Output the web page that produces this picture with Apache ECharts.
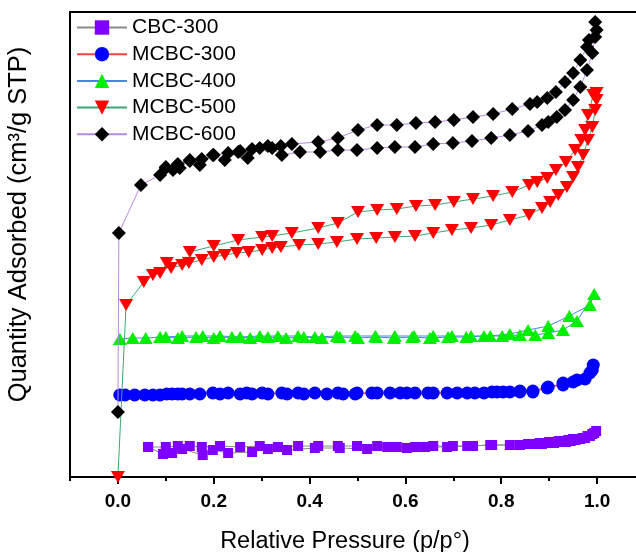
<!DOCTYPE html>
<html>
<head>
<meta charset="utf-8">
<script src="https://cdn.jsdelivr.net/npm/echarts@6/dist/echarts.min.js"></script>
<style>
html,body{margin:0;padding:0;background:#fff;}
#chart{width:636px;height:552px;}
</style>
</head>
<body>
<div id="chart"></div>
<script>
// ---- data (relative pressure, quantity adsorbed in arbitrary units) ----
const seriesNames = ['CBC-300', 'MCBC-300', 'MCBC-400', 'MCBC-500', 'MCBC-600'];
const xMajorTicks = [0, 0.2, 0.4, 0.6, 0.8, 1.0];

const cbc300 = [
  [0.063,30],[0.094,23],[0.113,24],[0.134,28],[0.177,22],[0.198,27],[0.230,24],[0.280,25],[0.313,28],
  [0.353,27],[0.411,29],[0.463,29],[0.520,28],[0.562,30],[0.603,29],[0.641,30],[0.687,30],[0.729,31],
  [0.777,32],[0.818,32],[0.856,33],[0.870,33],[0.880,34],[0.890,34],[0.900,35],[0.910,35],[0.920,36],
  [0.930,36],[0.940,37],[0.950,38],[0.960,38],[0.970,39],[0.980,41],[0.990,43],[0.998,46],
  [0.994,44],[0.985,41],[0.975,39],[0.965,38],[0.955,37],[0.945,36],[0.935,35],[0.922,35],[0.910,34],
  [0.897,34],[0.885,33],[0.870,33],[0.839,32],[0.781,32],[0.741,31],[0.699,31],[0.658,31],[0.620,30],
  [0.582,30],[0.541,31],[0.499,31],[0.459,31],[0.418,31],[0.376,31],[0.334,30],[0.296,31],[0.255,30],
  [0.213,31],[0.175,30],[0.150,31],[0.125,31],[0.100,30],[0.063,30]
];

const mcbc300 = [
  [0.004,82],[0.015,82],[0.035,82],[0.056,82],[0.073,82],[0.088,82],[0.113,83],[0.134,83],[0.171,83],
  [0.213,83],[0.255,83],[0.280,83],[0.313,83],[0.353,83],[0.388,83],[0.436,83],[0.470,83],[0.495,83],
  [0.530,84],[0.568,84],[0.603,84],[0.647,84],[0.687,84],[0.729,84],[0.764,84],[0.791,85],[0.818,85],
  [0.839,85],[0.866,85],[0.896,89],[0.929,94],[0.958,97],[0.985,104],[0.992,112],
  [0.990,107],[0.975,98],[0.950,95],[0.929,92],[0.898,90],[0.866,86],[0.839,86],[0.804,85],[0.781,85],
  [0.745,84],[0.708,84],[0.658,84],[0.620,84],[0.589,84],[0.541,84],[0.499,84],[0.459,84],[0.411,84],
  [0.376,84],[0.342,84],[0.301,84],[0.269,84],[0.230,84],[0.198,84],[0.150,83],[0.125,83],[0.102,83]
];

const mcbc400 = [
  [0.004,138],[0.031,139],[0.058,139],[0.088,140],[0.125,139],[0.163,140],[0.200,139],[0.238,140],
  [0.276,139],[0.313,140],[0.351,139],[0.388,140],[0.426,139],[0.463,140],[0.501,139],[0.539,140],
  [0.576,139],[0.614,140],[0.651,139],[0.689,140],[0.727,140],[0.764,141],[0.802,141],[0.839,142],
  [0.871,142],[0.898,144],[0.929,147],[0.958,156],[0.994,183],
  [0.985,172],[0.942,161],[0.898,151],[0.856,147],[0.818,143],[0.777,141],[0.737,141],[0.697,141],
  [0.658,141],[0.618,141],[0.578,141],[0.537,141],[0.495,141],[0.457,141],[0.411,140],[0.376,141],
  [0.334,141],[0.296,141],[0.255,140],[0.213,141],[0.177,141],[0.134,141],[0.100,140]
];

const mcbc500 = [
  [0.000,0],[0.017,172],[0.054,195],[0.073,202],[0.088,204],[0.102,214],[0.111,209],[0.134,212],
  [0.148,214],[0.175,217],[0.200,220],[0.223,222],[0.248,224],[0.273,225],[0.301,227],[0.322,229],
  [0.340,230],[0.378,232],[0.418,233],[0.457,235],[0.499,238],[0.539,239],[0.578,240],[0.620,241],
  [0.658,244],[0.697,247],[0.737,249],[0.779,252],[0.818,257],[0.858,262],[0.885,269],[0.902,275],
  [0.919,282],[0.937,290],[0.950,300],[0.960,310],[0.971,322],[0.981,337],[0.990,350],[0.996,367],
  [0.999,377],[0.999,384],
  [0.992,382],[0.981,362],[0.975,347],[0.967,337],[0.954,327],[0.935,315],[0.914,307],[0.896,299],
  [0.875,295],[0.858,292],[0.823,285],[0.783,281],[0.741,278],[0.701,275],[0.662,272],[0.622,271],
  [0.582,268],[0.541,267],[0.501,265],[0.459,254],[0.418,249],[0.363,244],[0.322,241],[0.301,240],
  [0.251,237],[0.200,231],[0.150,225]
];

const mcbc600 = [
  [0.000,65],[0.002,244],[0.048,292],[0.088,302],[0.100,310],[0.115,307],[0.129,309],[0.150,317],
  [0.171,312],[0.198,322],[0.223,317],[0.251,325],[0.271,319],[0.296,329],[0.322,329],[0.342,322],
  [0.380,325],[0.422,325],[0.459,327],[0.499,327],[0.541,329],[0.578,330],[0.620,330],[0.658,333],
  [0.699,334],[0.739,336],[0.779,339],[0.818,342],[0.856,346],[0.885,352],[0.898,355],[0.916,360],
  [0.933,367],[0.950,377],[0.965,390],[0.979,407],[0.990,424],[0.996,440],[0.999,447],[0.996,455],
  [0.983,437],[0.979,430],[0.965,417],[0.950,404],[0.933,395],[0.914,385],[0.896,379],[0.875,375],
  [0.860,373],[0.823,368],[0.783,363],[0.741,360],[0.701,357],[0.662,355],[0.622,354],[0.582,352],
  [0.541,352],[0.501,347],[0.459,339],[0.418,335],[0.363,333],[0.340,331],[0.313,331],[0.280,328],
  [0.255,326],[0.230,324],[0.200,322],[0.175,318],[0.150,316],[0.125,313],[0.100,309]
];

const seriesData = [cbc300, mcbc300, mcbc400, mcbc500, mcbc600];
const lineColors = ['#8a8a8a', '#ff4040', '#4a86e0', '#3aa872', '#b68ae0'];
const markColors = ['#8000ff', '#0000ff', '#00ee00', '#ff0000', '#000000'];
const markSymbols = ['rect', 'circle', 'triangle', 'triangle', 'diamond'];
const markRotate = [0, 0, 0, 180, 0];
const markSizes = [[10,10], 13, [14,12], [14,12], [14,14]];

const chart = echarts.init(document.getElementById('chart'), null, {renderer: 'canvas'});
const font = 'Arial, "Liberation Sans", sans-serif';

const series = seriesNames.map((name, i) => ({
  name: name,
  type: 'line',
  data: seriesData[i],
  xAxisIndex: 0,
  yAxisIndex: 0,
  symbol: markSymbols[i],
  symbolRotate: markRotate[i],
  symbolSize: markSizes[i],
  showAllSymbol: true,
  lineStyle: {color: lineColors[i], width: 1},
  itemStyle: {color: markColors[i], borderWidth: 0},
  emphasis: {disabled: true},
  animation: false,
  z: 2 + i
}));

chart.setOption({
  backgroundColor: '#fff',
  animation: false,
  grid: {left: 70, top: 12, width: 575, height: 465, outerBoundsMode: 'none', containLabel: false,
    show: true, borderColor: '#000', borderWidth: 2, backgroundColor: 'transparent'},
  legend: {
    orient: 'vertical', left: 71, top: 12,
    itemWidth: 50, itemHeight: 18, itemGap: 5.7,
    textStyle: {fontSize: 21, fontFamily: font, color: '#000'},
    data: seriesNames
  },
  xAxis: [{
    type: 'value', min: -0.1, max: 1.1, interval: 0.1, position: 'bottom',
    axisLine: {show: true, onZero: false, lineStyle: {color: '#000', width: 2}},
    axisTick: {show: true, inside: false, length: 4, lineStyle: {color: '#000', width: 2}},
    axisLabel: {show: false},
    splitLine: {show: false},
    name: 'Relative Pressure (p/p°)', nameLocation: 'middle', nameGap: 53,
    nameTextStyle: {fontSize: 23.5, fontFamily: font, color: '#000', padding: [0, 25, 0, 0]}
  }, {
    type: 'value', min: -0.1, max: 1.1, position: 'bottom', gridIndex: 0,
    axisLine: {show: false, onZero: false},
    axisTick: {show: true, length: 7, customValues: xMajorTicks, lineStyle: {color: '#000', width: 2}},
    axisLabel: {show: true, customValues: xMajorTicks, margin: 15, fontSize: 19, fontWeight: 'bold', fontFamily: font, color: '#000',
      formatter: v => v.toFixed(1)},
    splitLine: {show: false}
  }],
  yAxis: {
    type: 'value', min: 0, max: 465,
    axisLine: {show: true, onZero: false, lineStyle: {color: '#000', width: 2}},
    axisTick: {show: false}, axisLabel: {show: false}, splitLine: {show: false},
    name: 'Quantity Adsorbed (cm³/g STP)', nameLocation: 'middle', nameGap: 38,
    nameTextStyle: {fontSize: 25.5, fontFamily: font, color: '#000', padding: [0, 0, 0, 40]}
  },
  series: series
});
</script>
</body>
</html>
